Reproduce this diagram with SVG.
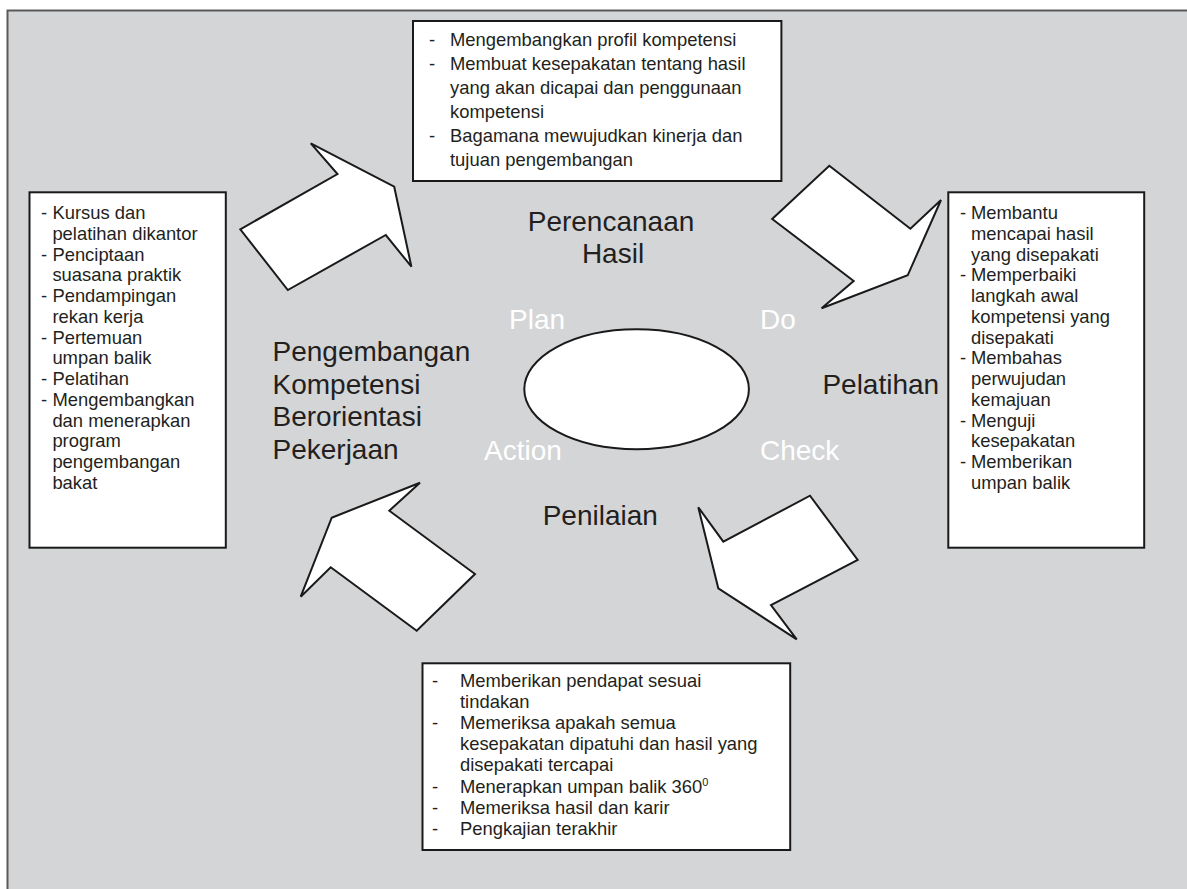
<svg xmlns="http://www.w3.org/2000/svg" width="1187" height="889" viewBox="0 0 1187 889">
<style>
.bg{fill:#d4d5d7;stroke:#5a5a5a;stroke-width:2}
.box{fill:#fff;stroke:#1a1a1a;stroke-width:2}
.arrow{fill:#fff;stroke:#1a1a1a;stroke-width:2;stroke-linejoin:miter}
.t{font-family:"Liberation Sans",Arial,sans-serif;font-size:18.4px;fill:#231f20}
.big{font-family:"Liberation Sans",Arial,sans-serif;font-size:28px;fill:#231f20}
.w{fill:#ffffff}
</style>
<rect x="0" y="0" width="1187" height="889" fill="#ffffff"/>
<rect class="bg" x="7.5" y="10.5" width="1200" height="900"/>

<g id="connectors">
<polygon class="arrow" points="240.3,229.3 337.5,174 310.8,143.3 394.2,186.7 411.4,266.7 385.8,235 287.8,290"/>
<polygon class="arrow" points="829.3,165.7 910.4,228.7 941,200 907.7,275.3 821.6,308.3 853.7,281 772.2,219"/>
<polygon class="arrow" points="698.3,507.3 723.3,541.7 810,495.7 857.7,560 771,605 796.7,639.3 718.3,588.3"/>
<polygon class="arrow" points="331.7,517.7 420,482.7 389.3,510.7 475,574 416.7,630.7 330.7,567.3 300.7,596.7"/>
</g>

<g id="box-top">
<rect class="box" x="413" y="21" width="368.4" height="160"/>
<g class="t">
<text x="429" y="46">-</text><text x="450" y="46">Mengembangkan profil kompetensi</text>
<text x="429" y="70">-</text><text x="450" y="70">Membuat kesepakatan tentang hasil</text>
<text x="450" y="94">yang akan dicapai dan penggunaan</text>
<text x="450" y="118">kompetensi</text>
<text x="429" y="142">-</text><text x="450" y="142">Bagamana mewujudkan kinerja dan</text>
<text x="450" y="166">tujuan pengembangan</text>
</g>
</g>

<g id="box-left">
<rect class="box" x="29.5" y="192.3" width="196.3" height="355.4"/>
<g class="t">
<text x="41" y="219">-</text><text x="52.4" y="219">Kursus dan</text>
<text x="52.4" y="239.75">pelatihan dikantor</text>
<text x="41" y="260.5">-</text><text x="52.4" y="260.5">Penciptaan</text>
<text x="52.4" y="281.25">suasana praktik</text>
<text x="41" y="302">-</text><text x="52.4" y="302">Pendampingan</text>
<text x="52.4" y="322.75">rekan kerja</text>
<text x="41" y="343.5">-</text><text x="52.4" y="343.5">Pertemuan</text>
<text x="52.4" y="364.25">umpan balik</text>
<text x="41" y="385">-</text><text x="52.4" y="385">Pelatihan</text>
<text x="41" y="405.75">-</text><text x="52.4" y="405.75">Mengembangkan</text>
<text x="52.4" y="426.5">dan menerapkan</text>
<text x="52.4" y="447.25">program</text>
<text x="52.4" y="468">pengembangan</text>
<text x="52.4" y="488.75">bakat</text>
</g>
</g>

<g id="box-right">
<rect class="box" x="948.3" y="192.3" width="195.9" height="355.4"/>
<g class="t">
<text x="960" y="219">-</text><text x="971" y="219">Membantu</text>
<text x="971" y="239.75">mencapai hasil</text>
<text x="971" y="260.5">yang disepakati</text>
<text x="960" y="281.25">-</text><text x="971" y="281.25">Memperbaiki</text>
<text x="971" y="302">langkah awal</text>
<text x="971" y="322.75">kompetensi yang</text>
<text x="971" y="343.5">disepakati</text>
<text x="960" y="364.25">-</text><text x="971" y="364.25">Membahas</text>
<text x="971" y="385">perwujudan</text>
<text x="971" y="405.75">kemajuan</text>
<text x="960" y="426.5">-</text><text x="971" y="426.5">Menguji</text>
<text x="971" y="447.25">kesepakatan</text>
<text x="960" y="468">-</text><text x="971" y="468">Memberikan</text>
<text x="971" y="488.75">umpan balik</text>
</g>
</g>

<g id="box-bottom">
<rect class="box" x="422.5" y="663.3" width="367.7" height="186.7"/>
<g class="t">
<text x="432" y="687">-</text><text x="460" y="687">Memberikan pendapat sesuai</text>
<text x="460" y="708.1">tindakan</text>
<text x="432" y="729.2">-</text><text x="460" y="729.2">Memeriksa apakah semua</text>
<text x="460" y="750.3">kesepakatan dipatuhi dan hasil yang</text>
<text x="460" y="771.4">disepakati tercapai</text>
<text x="432" y="792.5">-</text><text x="460" y="792.5">Menerapkan umpan balik 360<tspan font-size="11" dy="-7">0</tspan></text>
<text x="432" y="813.6">-</text><text x="460" y="813.6">Memeriksa hasil dan karir</text>
<text x="432" y="834.7">-</text><text x="460" y="834.7">Pengkajian terakhir</text>
</g>
</g>

<g id="center">
<ellipse cx="636.6" cy="389.3" rx="112.3" ry="60" fill="#ffffff" stroke="#1a1a1a" stroke-width="2"/>
</g>

<g id="label-plan"><text class="big w" x="509" y="329">Plan</text></g>
<g id="label-do"><text class="big w" x="760" y="329">Do</text></g>
<g id="label-action"><text class="big w" x="484" y="460">Action</text></g>
<g id="label-check"><text class="big w" x="760" y="460">Check</text></g>

<g id="label-perencanaan">
<text class="big" x="611" y="231" text-anchor="middle">Perencanaan</text>
<text class="big" x="613" y="263" text-anchor="middle">Hasil</text>
</g>
<g id="label-pengembangan">
<text class="big" x="272.5" y="361">Pengembangan</text>
<text class="big" x="272.5" y="393.5">Kompetensi</text>
<text class="big" x="272.5" y="426">Berorientasi</text>
<text class="big" x="272.5" y="459">Pekerjaan</text>
</g>
<g id="label-pelatihan"><text class="big" x="822.4" y="394">Pelatihan</text></g>
<g id="label-penilaian"><text class="big" x="542.7" y="525">Penilaian</text></g>
</svg>
